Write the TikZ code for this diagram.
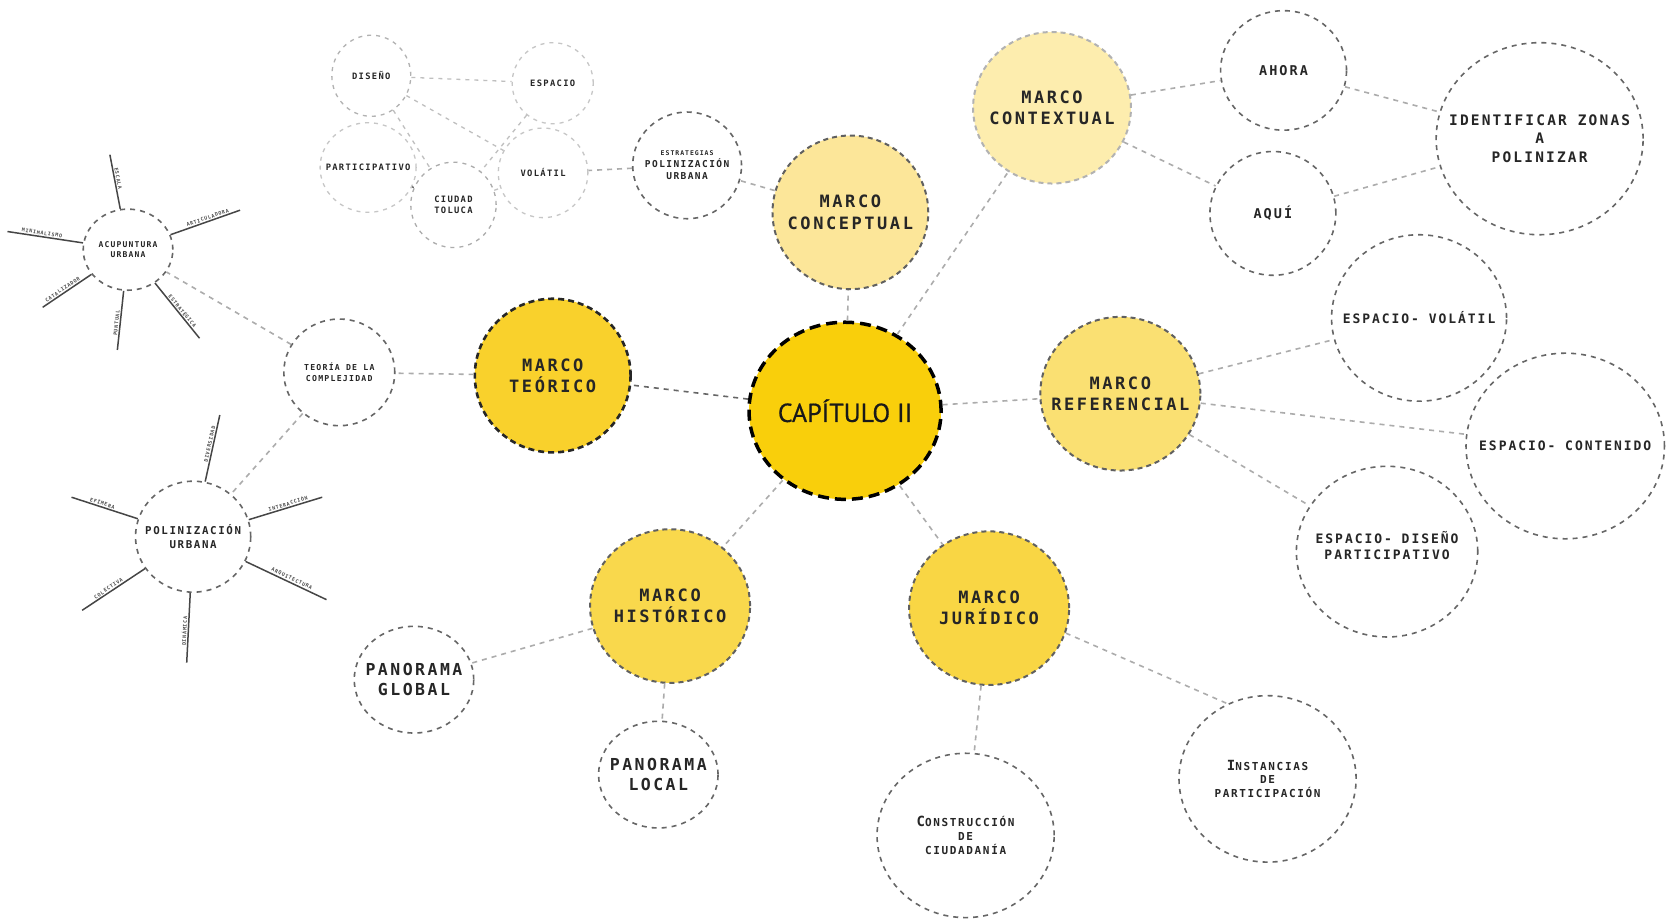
\documentclass[tikz,border=0pt]{standalone}
\usepackage{fontspec}
\newfontfamily\labfont[LetterSpace=15]{DejaVu Sans Mono Bold}
\newfontfamily\capfont[FakeBold=0.6]{PT Sans}
\usetikzlibrary{shapes.geometric}
\definecolor{capY}{HTML}{F9CF0B}
\definecolor{teoY}{HTML}{F9D12C}
\definecolor{hisY}{HTML}{F9D84C}
\definecolor{jurY}{HTML}{F9D644}
\definecolor{refY}{HTML}{FAE072}
\definecolor{conY}{HTML}{FCE699}
\definecolor{ctxY}{HTML}{FDEDAE}
\newcommand{\fs}[1]{\fontsize{#1pt}{\dimexpr #1pt*5/4\relax}\selectfont}
\tikzset{
  rad/.style 2 args={minimum width={2.134*#1}, minimum height={2.134*#2}},
  bub/.style={ellipse, inner sep=0pt},
  lab/.style={font=\labfont\fs{#1}, align=center, text=black!85, inner sep=0pt},
  capnode/.style={bub, fill=capY, draw=black, line width=3.5pt, dash pattern=on 11pt off 6pt},
  teonode/.style={bub, fill=teoY, draw=black!85, line width=2.6pt, dash pattern=on 6pt off 4pt},
  marco/.style={bub, draw=gray!75!black, line width=2pt, dash pattern=on 5pt off 4pt},
  sub/.style={bub, draw=gray!80!black, line width=1.6pt, dash pattern=on 5pt off 5pt},
  faint/.style={bub, draw=gray!45, line width=1.3pt, dash pattern=on 4pt off 5pt},
  link/.style={draw=gray!65, line width=1.6pt, dash pattern=on 5pt off 5pt},
  flink/.style={draw=gray!50, line width=1.3pt, dash pattern=on 4pt off 5pt},
  spoke/.style={draw=gray!55!black, line width=1.5pt},
  spoketxt/.style={font=\labfont\fs{5}, sloped, above, inner sep=1pt, pos=0.55, text=black!70}
}
\begin{document}
\begin{tikzpicture}[x=1.067pt, y=-1.067pt]
\useasboundingbox[fill=white] (0,0) rectangle (1568,861);

% main nodes
\node[capnode, rad={90}{83}, label={[lab=26, font=\capfont\fs{26}, text=black!90]center:CAPÍTULO II}] (CAP) at (792,385) {};
\node[teonode, rad={73}{72}, label={[lab=17]center:MARCO\\TEÓRICO}] (TEO) at (518,352) {};
\node[marco, fill=conY, rad={73}{72}, label={[lab=17]center:MARCO\\CONCEPTUAL}] (CON) at (797,199) {};
\node[marco, fill=ctxY, draw=gray!60, rad={74}{71}, label={[lab=17]center:MARCO\\CONTEXTUAL}] (CTX) at (986,101) {};
\node[marco, fill=refY, rad={75}{72}, label={[lab=17]center:MARCO\\REFERENCIAL}] (REF) at (1050,369) {};
\node[marco, fill=hisY, rad={75}{72}, label={[lab=17]center:MARCO\\HISTÓRICO}] (HIS) at (628,568) {};
\node[marco, fill=jurY, rad={75}{72}, label={[lab=17]center:MARCO\\JURÍDICO}] (JUR) at (927,570) {};

% right side
\node[sub, rad={59}{56}, label={[lab=13.5]center:AHORA}] (AHORA) at (1203,66) {};
\node[sub, rad={59}{58}, label={[lab=13.5]center:AQUÍ}] (AQUI) at (1193,200) {};
\node[sub, rad={97}{90}, label={[lab=14.5]center:IDENTIFICAR ZONAS\\A\\POLINIZAR}] (IDENT) at (1443,130) {};
\node[sub, rad={82}{78}, label={[lab=13]center:ESPACIO- VOLÁTIL}] (EVOL) at (1330,298) {};
\node[sub, rad={93}{87}, label={[lab=13]center:ESPACIO- CONTENIDO}] (ECON) at (1467,418) {};
\node[sub, rad={85}{80}, label={[lab=13, yshift=6pt]center:ESPACIO- DISEÑO\\PARTICIPATIVO}] (EDIS) at (1300,517) {};
\node[sub, rad={83}{78}, label={[lab=11]center:{\fs{14}I}NSTANCIAS\\DE\\PARTICIPACIÓN}] (INST) at (1188,730) {};
\node[sub, rad={83}{77}, label={[lab=11]center:{\fs{14}C}ONSTRUCCIÓN\\DE\\CIUDADANÍA}] (CONS) at (905,783) {};
\node[sub, rad={56}{50}, label={[lab=16.5]center:PANORAMA\\LOCAL}] (PLOC) at (617,726) {};
\node[sub, rad={56}{50}, label={[lab=16.5]center:PANORAMA\\GLOBAL}] (PGLO) at (388,637) {};

% left side
\node[sub, rad={52}{50}, label={[lab=8.2]center:TEORÍA DE LA\\COMPLEJIDAD}] (TCOMP) at (318,349) {};
\node[sub, rad={42}{38}, label={[lab=8]center:ACUPUNTURA\\URBANA}] (ACU) at (120,234) {};
\node[sub, rad={54}{52}, label={[lab=10.8]center:POLINIZACIÓN\\URBANA}] (POL) at (181,503) {};

% top-left cluster
\node[sub, rad={51}{50}, label={[lab=9.5]center:{\fs{6.5}ESTRATEGIAS}\\POLINIZACIÓN\\URBANA}] (EST) at (644,155) {};
\node[faint, rad={42}{42}, label={[lab=8.8]center:VOLÁTIL}] (VOL) at (509,162) {};
\node[faint, rad={38}{38}, label={[lab=8.8]center:ESPACIO}] (ESP) at (518,78) {};
\node[faint, draw=gray!60, rad={37}{38}, label={[lab=8.8]center:DISEÑO}] (DIS) at (348,71) {};
\node[faint, rad={45}{42}, label={[lab=8.8]center:PARTICIPATIVO}] (PART) at (345,157) {};
\node[faint, draw=gray!65, rad={40}{40}, label={[lab=8.8]center:CIUDAD\\TOLUCA}] (CIU) at (425,192) {};

% main links
\draw[link] (CAP) -- (CON);
\draw[link] (CAP) -- (CTX);
\draw[link] (CAP) -- (REF);
\draw[link, draw=gray!80!black] (CAP) -- (TEO);
\draw[link] (CAP) -- (HIS);
\draw[link] (CAP) -- (JUR);
\draw[link] (CTX) -- (AHORA);
\draw[link] (CTX) -- (AQUI);
\draw[link] (AHORA) -- (IDENT);
\draw[link] (AQUI) -- (IDENT);
\draw[link] (REF) -- (EVOL);
\draw[link] (REF) -- (ECON);
\draw[link] (REF) -- (EDIS);
\draw[link] (JUR.-18) -- (INST.118);
\draw[link] (JUR) -- (CONS);
\draw[link] (HIS) -- (PGLO);
\draw[link] (HIS) -- (PLOC);
\draw[link] (TEO) -- (TCOMP);
\draw[link] (TCOMP) -- (ACU);
\draw[link] (TCOMP) -- (POL);
\draw[link] (CON) -- (EST);
\draw[link] (EST) -- (VOL);

% cluster links
\draw[flink] (DIS) -- (ESP);
\draw[flink] (DIS) -- (VOL);
\draw[flink] (ESP) -- (CIU);
\draw[flink] (DIS) -- (CIU);
\draw[flink, draw=gray!70!black] (PART) -- (CIU);
\draw[flink] (CIU) -- (VOL);

% spokes of ACUPUNTURA URBANA
\coordinate (a1) at (103,145);
\coordinate (a2) at (225,197);
\coordinate (a3) at (7,217);
\coordinate (a4) at (40,288);
\coordinate (a5) at (110,328);
\coordinate (a6) at (187,317);
\draw[spoke] (ACU) -- (a1) node[spoketxt] {ESCALA};
\draw[spoke] (ACU) -- (a2) node[spoketxt] {ARTICULADORA};
\draw[spoke] (ACU) -- (a3) node[spoketxt] {MINIMALISMO};
\draw[spoke] (ACU) -- (a4) node[spoketxt] {CATALIZADOR};
\draw[spoke] (ACU) -- (a5) node[spoketxt] {PUNTUAL};
\draw[spoke] (ACU) -- (a6) node[spoketxt] {ESTRATÉGICA};

% spokes of POLINIZACION URBANA
\coordinate (p1) at (206,389);
\coordinate (p2) at (302,466);
\coordinate (p3) at (306,562);
\coordinate (p4) at (175,621);
\coordinate (p5) at (77,572);
\coordinate (p6) at (67,466);
\draw[spoke] (POL) -- (p1) node[spoketxt] {DIVERSIDAD};
\draw[spoke] (POL) -- (p2) node[spoketxt] {INTERACCIÓN};
\draw[spoke] (POL) -- (p3) node[spoketxt] {ARQUITECTURA};
\draw[spoke] (POL) -- (p4) node[spoketxt] {DINÁMICA};
\draw[spoke] (POL) -- (p5) node[spoketxt] {COLECTIVA};
\draw[spoke] (POL) -- (p6) node[spoketxt] {EFÍMERA};
\end{tikzpicture}
\end{document}
